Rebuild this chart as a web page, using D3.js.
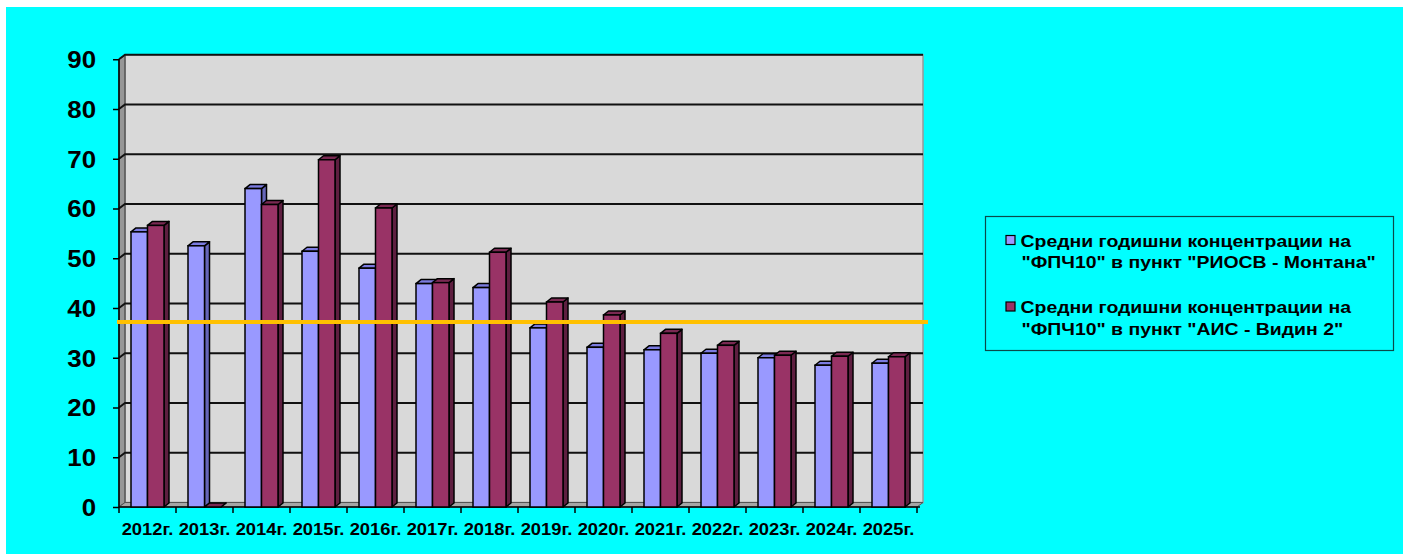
<!DOCTYPE html>
<html>
<head>
<meta charset="utf-8">
<script src="https://cdn.jsdelivr.net/npm/d3@7"></script>
<style>
  body { margin: 0; background: #fff; }
  svg text { font-family: Arial, "Liberation Sans", sans-serif; font-weight: bold; }
</style>
</head>
<body>
<div id="chart"></div>
<script>
// data
const years = ["2012г.", "2013г.", "2014г.", "2015г.", "2016г.", "2017г.", "2018г.",
  "2019г.", "2020г.", "2021г.", "2022г.", "2023г.", "2024г.", "2025г."];
const montana = [55.3, 52.5, 64.0, 51.4, 48.0, 44.9, 44.1, 36.0, 32.1, 31.6, 30.9, 30.0, 28.5, 28.9];
const vidin = [56.6, 0, 60.8, 69.8, 60.1, 45.1, 51.2, 41.2, 38.6, 34.9, 32.5, 30.5, 30.3, 30.2];
const yTicks = [0, 10, 20, 30, 40, 50, 60, 70, 80, 90];
const limitValue = 37.2;
const seriesNames = [
  ["Средни годишни концентрации на", "\"ФПЧ10\" в пункт \"РИОСВ - Монтана\""],
  ["Средни годишни концентрации на", "\"ФПЧ10\" в пункт \"АИС - Видин 2\""]
];

var w = 1403, h = 554;
var svg = d3.select("#chart").append("svg").attr("width", w).attr("height", h);

svg.append("rect").attr("x", 6).attr("y", 7).attr("width", w - 6).attr("height", h - 7)
  .style("fill", "#00ffff");

// plot geometry (front plane)
var x0 = 119, x1 = 917, yBottom = 507, yTop = 59.25;
var wallDx = 6, wallDy = -4.5;   // depth of walls
var barDx = 5, barDy = -4;       // depth of bars
var stretch = 1.12;              // text in the original is a bit wide

var x = d3.scaleBand().domain(years).range([x0, x1]);
var y = d3.scaleLinear().domain([0, 90]).range([yBottom, yTop]);

function poly(pts) { return "M" + pts.map(p => p.join(",")).join("L") + "Z"; }

// back wall
svg.append("path")
  .attr("d", poly([[x0 + wallDx, y(90) + wallDy], [x1 + wallDx, y(90) + wallDy],
                   [x1 + wallDx, y(0) + wallDy], [x0 + wallDx, y(0) + wallDy]]))
  .style("fill", "#d9d9d9").style("stroke", "#999").style("stroke-width", 1.5);

// left side wall
svg.append("path")
  .attr("d", poly([[x0, y(90)], [x0 + wallDx, y(90) + wallDy], [x0 + wallDx, y(0) + wallDy], [x0, y(0)]]))
  .style("fill", "#969696").style("stroke", "#333").style("stroke-width", 1);

// floor
svg.append("path")
  .attr("d", poly([[x0, y(0)], [x1, y(0)], [x1 + wallDx, y(0) + wallDy], [x0 + wallDx, y(0) + wallDy]]))
  .style("fill", "#a6a6a6").style("stroke", "#555").style("stroke-width", 1);

// gridlines on back wall + left wall
yTicks.slice(1).forEach(function (v) {
  svg.append("path")
    .attr("d", "M" + x0 + "," + y(v) + "L" + (x0 + wallDx) + "," + (y(v) + wallDy) +
      "L" + (x1 + wallDx) + "," + (y(v) + wallDy))
    .style("fill", "none").style("stroke", "#111").style("stroke-width", 2);
});

// y axis
var yAxis = d3.axisLeft(y).tickValues(yTicks).tickSize(6).tickPadding(17);
var gy = svg.append("g").attr("transform", "translate(" + x0 + ",0)").call(yAxis);
gy.select(".domain").attr("d", "M0," + y(90) + "V" + y(0)).style("stroke", "#000").style("stroke-width", 1.5);
gy.selectAll(".tick line").style("stroke", "#000").style("stroke-width", 1.5);
gy.selectAll("text").style("font-size", "23.5px").style("fill", "#000")
  .attr("x", -23 / 1.1).attr("dy", "0.36em").attr("transform", "scale(1.1,1)");

// x axis
var xAxis = d3.axisBottom(x).tickSize(0).tickPadding(0);
var gx = svg.append("g").attr("transform", "translate(0," + yBottom + ")").call(xAxis);
gx.select(".domain").attr("d", "M" + x0 + ",0H" + (x1 + 3)).style("stroke", "#000").style("stroke-width", 1.5);
gx.selectAll("text").style("font-size", "17px").style("fill", "#000").attr("y", 28).attr("dy", 0)
  .attr("transform", "scale(1.08,1)");
gx.selectAll(".sep").data(years.concat(["end"])).enter().append("line")
  .attr("x1", (d, i) => x0 + i * x.step()).attr("x2", (d, i) => x0 + i * x.step())
  .attr("y1", 0).attr("y2", 6).style("stroke", "#000").style("stroke-width", 1.5);

// bars
var barW = 16.5;
var series = [
  { values: montana, front: "#9999ff", top: "#7b7be0", side: "#6666b8" },
  { values: vidin, front: "#993366", top: "#7a2952", side: "#5e1f40" }
];

series.forEach(function (s, si) {
  var g = svg.append("g").attr("class", "series" + si);
  years.forEach(function (yr, i) {
    var v = s.values[i];
    var bx = x(yr) + x.bandwidth() / 2 - barW + si * barW;
    var by = y(v), b0 = y(0);
    // side
    g.append("path")
      .attr("d", poly([[bx + barW, by], [bx + barW + barDx, by + barDy], [bx + barW + barDx, b0 + barDy], [bx + barW, b0]]))
      .style("fill", s.side).style("stroke", "#000").style("stroke-width", 1.5).style("stroke-linejoin", "round");
    // top
    g.append("path")
      .attr("d", poly([[bx, by], [bx + barDx, by + barDy], [bx + barW + barDx, by + barDy], [bx + barW, by]]))
      .style("fill", s.top).style("stroke", "#000").style("stroke-width", 1.5).style("stroke-linejoin", "round");
    // front
    if (v > 0) {
      g.append("rect").attr("x", bx).attr("y", by).attr("width", barW).attr("height", b0 - by)
        .style("fill", s.front).style("stroke", "#000").style("stroke-width", 1.5);
    }
  });
});

// limit line
svg.append("line")
  .attr("x1", 117).attr("x2", 928).attr("y1", y(limitValue)).attr("y2", y(limitValue))
  .style("stroke", "#ffc000").style("stroke-width", 4);

// legend
var legend = svg.append("g");
legend.append("rect").attr("x", 985.5).attr("y", 216.5).attr("width", 408).attr("height", 134)
  .style("fill", "none").style("stroke", "#0a4a4a").style("stroke-width", 1.2);

var legendY = [246.5, 313];
series.forEach(function (s, si) {
  var ly = legendY[si];
  legend.append("rect").attr("x", 1006).attr("y", ly - 11).attr("width", 9).attr("height", 9)
    .style("fill", s.front).style("stroke", "#000").style("stroke-width", 1.2);
  seriesNames[si].forEach(function (line, li) {
    legend.append("text")
      .attr("transform", "translate(" + (li ? 1021.5 : 1020.5) + "," + (ly + li * 21.5) + ") scale(" + stretch * 1.02 + ",1)")
      .style("font-size", "17px").style("fill", "#000").text(line);
  });
});
</script>
</body>
</html>
